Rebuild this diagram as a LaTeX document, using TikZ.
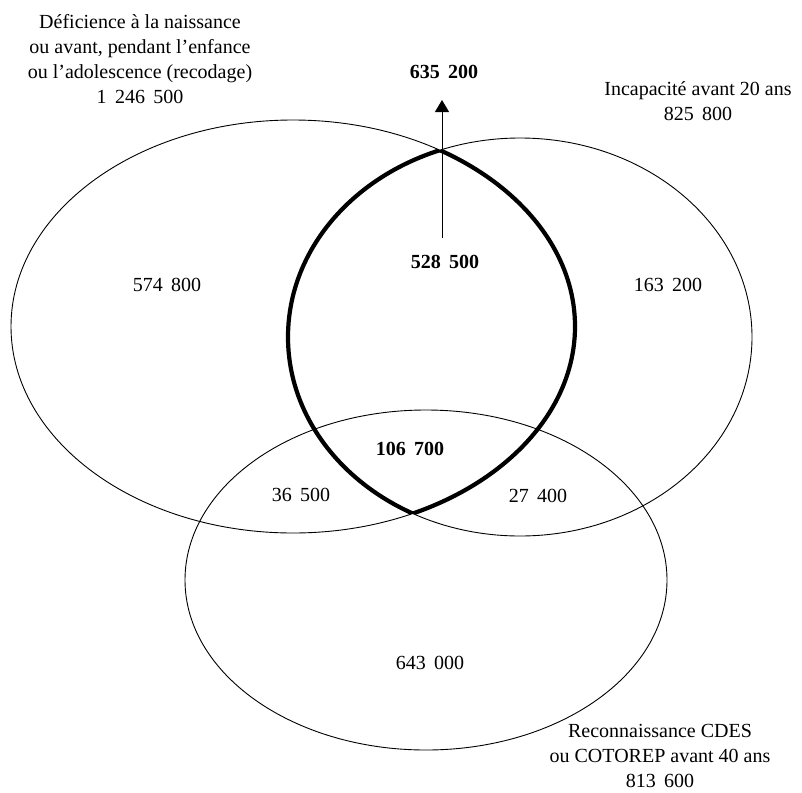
\documentclass[tikz,border=0pt]{standalone}
\usepackage{fontspec}
\setmainfont{Liberation Serif}
\usetikzlibrary{arrows.meta}
\newcommand{\nsp}{\hspace{0.42em}}
\tikzset{
  thinline/.style={line width=0.9pt},
  lensline/.style={line width=4.2pt, line join=miter},
  lbl/.style={font=\fontsize{20}{25}\selectfont, inner sep=0pt, align=center},
  blbl/.style={lbl, font=\fontsize{20}{25}\selectfont\bfseries},
  arrowline/.style={line width=1pt, -{Triangle[length=12pt,width=14pt]}}
}
\begin{document}
\begin{tikzpicture}[x=1pt,y=1pt]
\useasboundingbox (0,0) rectangle (802,-792);
% lens (intersection of left and right ellipses), thick
\begin{scope}
  \clip (520,-337) ellipse [x radius=232, y radius=199];
  \draw[lensline] (293,-326.5) ellipse [x radius=282, y radius=206.5];
\end{scope}
\begin{scope}
  \clip (293,-326.5) ellipse [x radius=282, y radius=206.5];
  \draw[lensline] (520,-337) ellipse [x radius=232, y radius=199];
\end{scope}
% ellipses
\draw[thinline] (293,-326.5) ellipse [x radius=282, y radius=206.5];
\draw[thinline] (520,-337) ellipse [x radius=232, y radius=199];
\draw[thinline] (426,-580) ellipse [x radius=241, y radius=170];
% labels
\node[lbl] (deficience) at (140,-59) {Déficience à la naissance\\ou avant, pendant l’enfance\\ou l’adolescence (recodage)\\1\nsp246\nsp500};
\node[lbl] (incap) at (698,-101) {Incapacité avant 20 ans\\825\nsp800};
\node[lbl] (recon) at (660,-756) {Reconnaissance CDES\\ou COTOREP avant 40 ans\\813\nsp600};
\node[blbl] (total) at (444,-72) {635\nsp200};
\node[blbl] (center) at (445,-262) {528\nsp500};
\node[blbl] (triple) at (410,-449) {106\nsp700};
\node[lbl] (left) at (167,-285) {574\nsp800};
\node[lbl] (right) at (668,-285) {163\nsp200};
\node[lbl] (lb) at (301,-495) {36\nsp500};
\node[lbl] (rb) at (538,-496) {27\nsp400};
\node[lbl] (bottom) at (430,-663) {643\nsp000};
% arrow
\coordinate (a0) at (442,-238);
\coordinate (a1) at (442,-100);
\draw[arrowline] (a0) -- (a1);
\end{tikzpicture}
\end{document}
